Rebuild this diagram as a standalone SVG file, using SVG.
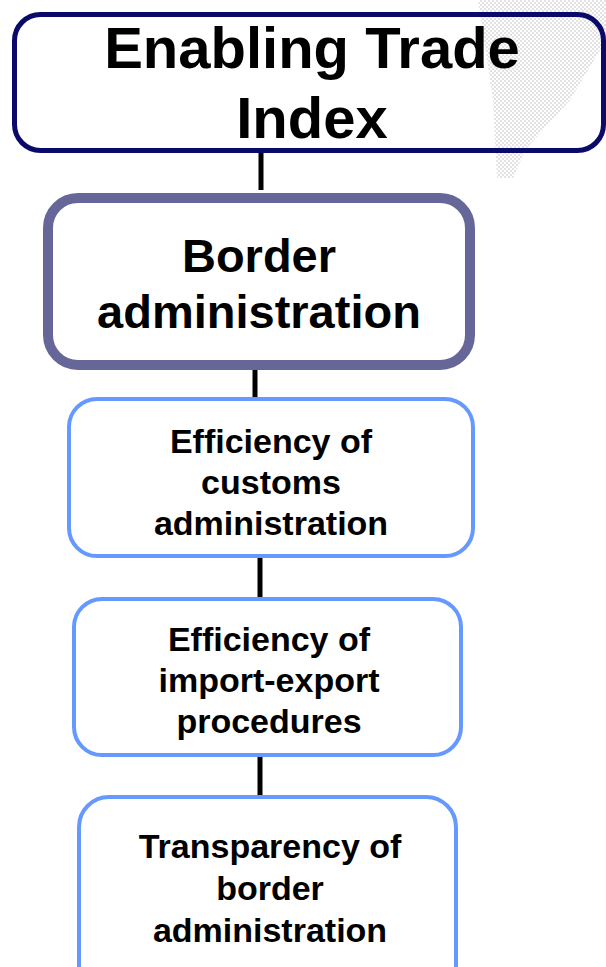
<svg xmlns="http://www.w3.org/2000/svg" width="606" height="967" viewBox="0 0 606 967">
<defs>
<pattern id="dots" width="4" height="4" patternUnits="userSpaceOnUse">
<rect x="0" y="0" width="2" height="2" fill="#e2e2e2"/>
<rect x="2" y="2" width="2" height="2" fill="#e2e2e2"/>
</pattern>
<style>
text{font-family:"Liberation Sans",Arial,sans-serif;font-weight:bold;fill:#000;text-anchor:middle}
.t1{font-size:58px}
.t2{font-size:47px}
.t3{font-size:34px}
.sub{fill:#fff;stroke:#6699ff;stroke-width:4}
.conn{stroke:#000;stroke-width:5;fill:none}
</style>
</defs>
<rect width="606" height="967" fill="#fff"/>
<polygon points="478,0 606,0 606,40 570,100 525,150 513,178 497,178 493,100" fill="url(#dots)"/>
<g id="connectors">
<line class="conn" x1="261" y1="153" x2="261" y2="190"/>
<line class="conn" x1="255" y1="368" x2="255" y2="399"/>
<line class="conn" x1="260" y1="557" x2="260" y2="598"/>
<line class="conn" x1="260" y1="755" x2="260" y2="796"/>
</g>
<g id="enabling-trade-index">
<rect x="14.5" y="14.5" width="589" height="136" rx="26" fill="none" stroke="#0a0a6b" stroke-width="5"/>
<text class="t1" x="312" y="68">Enabling Trade</text>
<text class="t1" x="312" y="138">Index</text>
</g>
<g id="border-administration">
<rect x="48" y="198" width="422" height="167" rx="30" fill="#fff" stroke="#666699" stroke-width="10"/>
<text class="t2" x="259" y="272">Border</text>
<text class="t2" x="259" y="328">administration</text>
</g>
<g id="customs">
<rect class="sub" x="69" y="399" width="404" height="157" rx="28"/>
<text class="t3" x="271" y="453">Efficiency of</text>
<text class="t3" x="271" y="494">customs</text>
<text class="t3" x="271" y="535">administration</text>
</g>
<g id="import-export">
<rect class="sub" x="74" y="599" width="387" height="156" rx="28"/>
<text class="t3" x="269" y="651">Efficiency of</text>
<text class="t3" x="269" y="692">import-export</text>
<text class="t3" x="269" y="733">procedures</text>
</g>
<g id="transparency">
<rect class="sub" x="79" y="797" width="377" height="200" rx="30"/>
<text class="t3" x="270" y="858">Transparency of</text>
<text class="t3" x="270" y="900">border</text>
<text class="t3" x="270" y="942">administration</text>
</g>
</svg>
